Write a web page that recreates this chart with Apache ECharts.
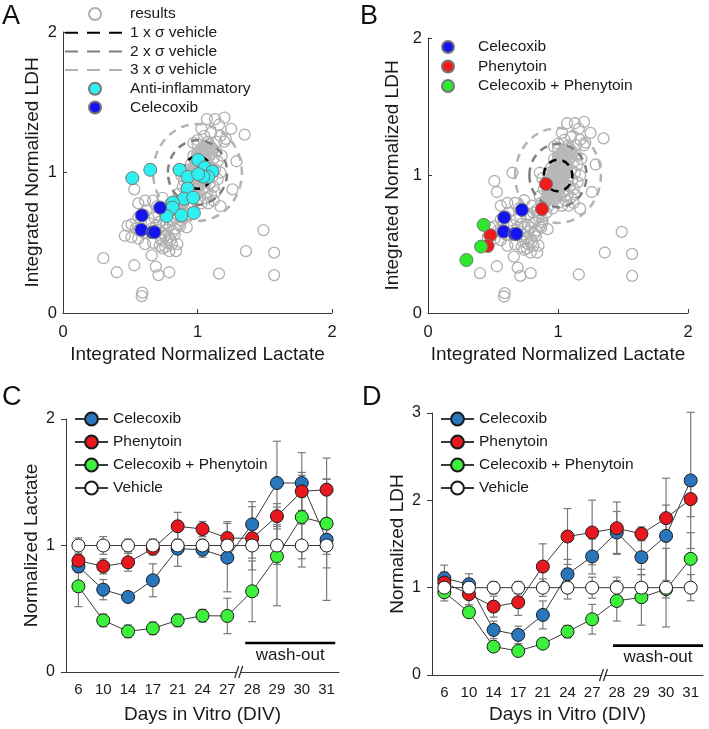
<!DOCTYPE html>
<html><head><meta charset="utf-8">
<script src="https://cdn.jsdelivr.net/npm/echarts@6/dist/echarts.min.js"></script>
<style>
html,body{margin:0;padding:0;background:#fff;width:709px;height:729px;overflow:hidden;position:relative}
.p{position:absolute}
</style></head>
<body>
<div id="pa" class="p" style="left:0;top:0;width:355px;height:365px"></div>
<div id="pb" class="p" style="left:355px;top:0;width:354px;height:365px"></div>
<div id="pc" class="p" style="left:0;top:365px;width:355px;height:364px"></div>
<div id="pd" class="p" style="left:355px;top:365px;width:354px;height:364px"></div>
<script>
// ---------------- DATA ----------------
// Panels A/B: integrated normalized [lactate, LDH]
const resultsPoints = [
 [0.30,0.39],[0.40,0.29],[0.53,0.34],[0.585,0.12],[0.59,0.145],[0.66,0.41],[0.69,0.33],[0.71,0.27],[0.79,0.29],
 [1.16,0.28],[1.36,0.44],[1.49,0.59],[1.57,0.43],[1.57,0.27],[1.35,1.27],[1.29,1.08],[1.26,0.88],[1.17,0.76],
 [0.51,0.96],[0.65,1.02],[0.53,0.88],
 [0.51,0.63],[0.54,0.60],[0.56,0.59],[0.60,0.57],[0.62,0.57],[0.51,0.54],[0.56,0.53],[0.61,0.49],[0.67,0.50],
 [0.72,0.48],[0.74,0.46],[0.76,0.47],[0.79,0.44],[0.84,0.44],[0.81,0.49],[0.79,0.54],[0.76,0.55],[0.73,0.57],
 [0.71,0.59],[0.77,0.59],[0.66,0.60],[0.64,0.64],[0.69,0.62],[0.86,0.63],[0.92,0.61],[0.56,0.68],[0.60,0.70],
 [0.62,0.73],[0.68,0.68],[0.71,0.70],[0.76,0.71],[0.81,0.73],[0.56,0.78],[0.61,0.80],[0.67,0.80],[0.74,0.82],
 [0.70,0.76],[0.79,0.62],[0.82,0.58],[0.88,0.66],[0.58,0.65],[0.46,0.55],[0.48,0.62],[0.73,0.52],[0.77,0.50],
 [0.82,0.66],[0.85,0.70],[0.88,0.68],[0.84,0.75],[0.88,0.76],[0.91,0.73],[0.93,0.78],[0.96,0.76],[0.90,0.82],
 [0.94,0.84],[0.97,0.82],[1.00,0.80],[1.03,0.78],[1.06,0.82],[0.92,0.88],[0.95,0.90],[0.98,0.88],[1.01,0.86],
 [1.04,0.88],[1.07,0.86],[1.10,0.84],[0.90,0.94],[0.94,0.96],[0.97,0.94],[1.00,0.92],[1.03,0.95],[1.06,0.93],
 [1.09,0.92],[1.12,0.90],[0.93,1.02],[0.96,1.00],[0.99,0.98],[1.02,1.02],[1.05,1.00],[1.08,0.98],[1.11,0.97],
 [0.95,1.06],[0.98,1.08],[1.01,1.05],[1.04,1.08],[1.07,1.06],[1.10,1.04],[1.13,1.02],[0.97,1.12],[1.00,1.14],
 [1.03,1.12],[1.06,1.15],[1.09,1.12],[1.12,1.10],[1.15,1.08],[1.00,1.20],[1.04,1.18],[1.08,1.20],[1.11,1.17],
 [1.14,1.15],[0.86,1.02],[0.88,0.98],[0.89,0.90],[0.86,0.85],[0.80,0.78],[0.78,0.72],[0.83,0.60],[0.87,0.62],
 [1.13,0.86],[1.15,0.95],[1.17,1.00],[1.18,1.12],[0.77,0.64],[0.74,0.62],[0.72,0.65],[0.76,0.55],[0.80,0.52],
 [0.83,0.56],[0.85,0.49],[0.87,0.80],[1.08,0.78],[1.12,0.80],
 [1.07,1.38],[1.13,1.38],[1.20,1.39],[1.16,1.34],[1.25,1.31],[1.03,1.31],[1.10,1.28],[1.17,1.26],[1.20,1.22],
 [1.00,1.23],[0.97,1.21],[1.08,1.22],[1.14,1.22],[1.21,1.24],[1.05,1.26]
];
const vehiclePoints = [
 [0.92,0.85],[0.95,0.90],[0.97,0.95],[1.00,1.00],[1.03,1.05],[1.05,1.10],[0.98,1.05],[1.02,0.95],[0.94,0.97],
 [1.06,1.03],[1.00,1.12],[1.08,1.15],[0.90,0.80],[0.96,0.84],[1.01,0.90],[0.99,0.99],[1.04,0.99],[0.96,1.02],
 [0.88,0.76],[1.10,1.18],[1.03,1.17],[0.93,0.92],[1.07,1.08]
];
const vehicleCenter = [1, 1];
const vehicleSigma = [0.11, 0.115];   // σ in lactate, LDH
const sigmaMultiples = [1, 2, 3];
const antiInflammatoryPoints = [
 [0.516,0.960],[0.649,1.019],[0.867,1.019],[1.005,1.090],[0.926,0.969],[1.054,1.036],[1.111,1.007],[1.079,0.969],
 [1.042,0.971],[1.005,0.988],[0.926,0.886],[0.899,0.814],[0.968,0.821],[0.817,0.786],[0.815,0.750],[0.770,0.690],
 [0.881,0.695],[0.973,0.712]
];
const celecoxibPoints = [[0.722,0.750],[0.586,0.695],[0.582,0.592],[0.665,0.575],[0.680,0.575]];
const phenytoinPoints = [[0.908,0.937],[0.877,0.756],[0.479,0.566],[0.459,0.488]];
const comboPoints = [[0.428,0.641],[0.408,0.483],[0.295,0.385]];
const scatterTickValues = [0, 1, 2];

// Panels C/D: time course
const days = ['6','10','14','17','21','24','27','28','29','30','31'];
const lacCel      = [0.835,0.651,0.593,0.725,0.975,0.967,0.904,1.167,1.494,1.494,1.046];
const lacCelErr   = [0.05,0.08,0.04,0.13,0.14,0.06,0.27,0.18,0.33,0.24,0.48];
const lacPhe      = [0.880,0.835,0.867,0.975,1.152,1.130,1.059,1.057,1.231,1.428,1.441];
const lacPheErr   = [0.05,0.06,0.07,0.05,0.11,0.06,0.13,0.25,0.10,0.15,0.25];
const lacCombo    = [0.677,0.408,0.321,0.345,0.408,0.445,0.443,0.638,0.914,1.225,1.173];
const lacComboErr = [0.16,0.05,0.05,0.05,0.05,0.05,0.14,0.24,0.39,0.33,0.35];
const lacVeh      = [1,1,1,1,1,1,1,1,1,1,1];
const lacVehErr   = [0.06,0.07,0.05,0.05,0.05,0.05,0.10,0.10,0.15,0.17,0.07];

const ldhCel      = [1.108,1.039,0.516,0.459,0.688,1.154,1.357,1.632,1.349,1.593,2.228];
const ldhCelErr   = [0.15,0.12,0.10,0.10,0.16,0.17,0.20,0.24,0.20,0.66,0.78];
const ldhPhe      = [1.058,0.925,0.783,0.833,1.242,1.586,1.632,1.681,1.616,1.796,2.014];
const ldhPheErr   = [0.12,0.12,0.12,0.15,0.26,0.32,0.37,0.30,0.08,0.15,0.20];
const ldhCombo    = [0.948,0.718,0.325,0.275,0.359,0.497,0.638,0.848,0.890,0.982,1.330];
const ldhComboErr = [0.10,0.05,0.05,0.05,0.04,0.07,0.17,0.23,0.32,0.10,0.30];
const ldhVeh      = [1,1,1,1,1,1,1,1,1,1,1];
const ldhVehErr   = [0.10,0.10,0.07,0.07,0.10,0.13,0.12,0.12,0.15,0.45,0.15];

const washoutLabel = 'wash-out';
const washoutRange = ['28', '31'];

// ---------------- STYLE / BUILD ----------------
const FONT = "'Liberation Sans', Arial, Helvetica, sans-serif";
const TXT = '#1a1a1a';
const AX = '#3a3a3a';

function axisTitles(xName, xPos, yName, yPos) {
  const st = function (t) { return { text: t, fontFamily: FONT, fontSize: 19, fill: TXT, align: 'center', verticalAlign: 'middle' }; };
  return [
    { type: 'text', x: xPos[0], y: xPos[1], style: st(xName), silent: true },
    { type: 'text', x: yPos[0], y: yPos[1], rotation: Math.PI / 2, style: st(yName), silent: true }
  ];
}

function sigmaSeries(k, color) {
  return {
    type: 'custom', name: 'sigma' + k, data: [vehicleCenter], clip: false, z: 4, silent: true,
    renderItem: function (params, api) {
      const c = api.coord([api.value(0), api.value(1)]);
      const rx = api.size([vehicleSigma[0] * k, 0])[0];
      const ry = api.size([0, vehicleSigma[1] * k])[1];
      return { type: 'ellipse', shape: { cx: c[0], cy: c[1], rx: rx, ry: ry },
        style: { fill: null, stroke: color, lineWidth: 2.5, lineDash: [8, 6] } };
    }
  };
}
const sigmaColors = ['#000000', '#7f7f7f', '#b3b3b3'];

function scatterPanel(el, letter, grid, legend, colored, withSigmaLegend) {
  const chart = echarts.init(document.getElementById(el), null, { renderer: 'canvas' });
  const series = [
    { type: 'scatter', name: 'results', data: resultsPoints, symbol: 'circle', symbolSize: 11, z: 2,
      itemStyle: { color: 'rgba(255,255,255,0)', borderColor: '#b0b0b0', borderWidth: 1.3, opacity: 1 } },
    { type: 'scatter', name: 'vehicle', data: vehiclePoints, symbol: 'circle', symbolSize: 12, z: 3,
      itemStyle: { color: '#b8b8b8', borderColor: '#b8b8b8', borderWidth: 1, opacity: 1 } }
  ];
  sigmaMultiples.forEach(function (k, i) { series.push(sigmaSeries(k, sigmaColors[i])); });
  const legendData = [];
  if (withSigmaLegend) {
    legendData.push({ name: 'results' });
    sigmaMultiples.forEach(function (k, i) {
      const nm = k + ' x σ vehicle';
      legendData.push({ name: nm, itemStyle: { opacity: 0 } });
      series.push({ type: 'line', name: nm, data: [], symbol: 'none', showSymbol: false,
        lineStyle: { color: sigmaColors[i], width: 2.5, type: [13, 9] }, itemStyle: { color: sigmaColors[i], opacity: 0 } });
    });
  }
  colored.forEach(function (c) {
    legendData.push({ name: c.name });
    series.push({ type: 'scatter', name: c.name, data: c.data, symbol: 'circle', symbolSize: 13, z: 6,
      itemStyle: { color: c.color, borderColor: '#777', borderWidth: 1, opacity: 1 } });
  });
  const gx = grid.left, gy = grid.top;
  chart.setOption({
    animation: false,
    title: { text: letter, left: grid.letterLeft, top: -2, padding: 5, textStyle: { fontFamily: FONT, fontSize: 27, fontWeight: 'normal', color: '#111' } },
    graphic: axisTitles('Integrated Normalized Lactate', [gx + grid.width / 2, 355],
                        'Integrated Normalized LDH', [grid.yTitleX, gy + grid.height / 2]),
    legend: Object.assign({ data: legendData, orient: 'vertical', itemHeight: 12, selectedMode: false, padding: 0,
      textStyle: { fontFamily: FONT, fontSize: 15.5, color: TXT, lineHeight: 18 } }, legend),
    grid: { left: grid.left, top: grid.top, width: grid.width, height: grid.height },
    xAxis: { type: 'value', min: 0, max: 2, interval: 1,
      axisLine: { lineStyle: { color: AX, width: 1 } }, axisTick: { inside: true, length: 4, lineStyle: { color: AX } },
      axisLabel: { margin: 11, fontFamily: FONT, fontSize: 16.5, color: TXT, formatter: function (v) { return scatterTickValues.indexOf(v) >= 0 ? String(v) : ''; } },
      splitLine: { show: false } },
    yAxis: { type: 'value', min: 0, max: 2, interval: 1,
      axisLine: { show: true, lineStyle: { color: AX, width: 1 } }, axisTick: { show: true, inside: true, length: 4, lineStyle: { color: AX } },
      axisLabel: { margin: 6, fontFamily: FONT, fontSize: 16.5, color: TXT },
      splitLine: { show: false } },
    series: series
  });
}

scatterPanel('pa', 'A', { left: 63, top: 32, width: 269, height: 281, letterLeft: -3, yTitleX: 33 },
  { left: 64, top: 5, itemWidth: 60, itemGap: 0.7 }, [
    { name: 'Anti-inflammatory', data: antiInflammatoryPoints, color: '#2ff0f0' },
    { name: 'Celecoxib', data: celecoxibPoints, color: '#1414f0' }
  ], true);

scatterPanel('pb', 'B', { left: 73, top: 38, width: 260, height: 275, letterLeft: 0, yTitleX: 38 },
  { left: 86, top: 38, itemWidth: 50, itemGap: 1.5 }, [
    { name: 'Celecoxib', data: celecoxibPoints, color: '#1414f0' },
    { name: 'Phenytoin', data: phenytoinPoints, color: '#ee1c1c' },
    { name: 'Celecoxib + Phenytoin', data: comboPoints, color: '#2ee82e' }
  ], false);

function errData(vals, errs) {
  return vals.map(function (v, i) { return [i, v - errs[i], v + errs[i]]; });
}
function errSeries(vals, errs) {
  return { type: 'custom', data: errData(vals, errs), encode: { x: 0, y: [1, 2] }, z: 1, silent: true, clip: false,
    renderItem: function (params, api) {
      const i = api.value(0);
      const p1 = api.coord([i, api.value(1)]), p2 = api.coord([i, api.value(2)]);
      const w = 4, st = { stroke: '#7a7a7a', lineWidth: 1.2 };
      return { type: 'group', children: [
        { type: 'line', shape: { x1: p1[0], y1: p1[1], x2: p2[0], y2: p2[1] }, style: st },
        { type: 'line', shape: { x1: p1[0] - w, y1: p1[1], x2: p1[0] + w, y2: p1[1] }, style: st },
        { type: 'line', shape: { x1: p2[0] - w, y1: p2[1], x2: p2[0] + w, y2: p2[1] }, style: st }
      ] };
    } };
}

function timePanel(el, letter, cfg, groups) {
  const chart = echarts.init(document.getElementById(el), null, { renderer: 'canvas' });
  const series = [];
  groups.forEach(function (g) { series.push(errSeries(g.vals, g.errs)); });
  groups.forEach(function (g) {
    series.push({ type: 'line', name: g.name, data: g.vals, symbol: 'circle', symbolSize: 13, z: 3,
      lineStyle: { color: '#3a3a3a', width: 1 },
      itemStyle: { color: g.color, borderColor: '#1a1a1a', borderWidth: 1 } });
  });
  // axis break mark between 27 and 28
  series.push({ type: 'custom', data: [[days.indexOf('27'), 0]], z: 5, silent: true, clip: false,
    renderItem: function (params, api) {
      const p = api.coord([api.value(0), api.value(1)]);
      const x = p[0] + api.size([1, 0])[0] / 2, y = p[1];
      const st = { stroke: '#222', lineWidth: 1.2 };
      return { type: 'group', children: [
        { type: 'polygon', shape: { points: [[x - 5, y + 6], [x - 1, y - 6], [x + 3, y - 6], [x - 1, y + 6]] }, style: { fill: '#fff' } },
        { type: 'line', shape: { x1: x - 5, y1: y + 6, x2: x - 1, y2: y - 6 }, style: st },
        { type: 'line', shape: { x1: x - 1, y1: y + 6, x2: x + 3, y2: y - 6 }, style: st }
      ] };
    } });
  // wash-out bar
  series.push({ type: 'custom', data: [[days.indexOf(washoutRange[0]), cfg.washY, days.indexOf(washoutRange[1])]],
    encode: { x: 0, y: 1 }, z: 5, silent: true, clip: false,
    renderItem: function (params, api) {
      const band = api.size([1, 0])[0];
      const a = api.coord([api.value(0), api.value(1)]);
      const b = api.coord([api.value(2), api.value(1)]);
      const x1 = a[0] + cfg.washStart * band, x2 = b[0] + cfg.washEnd * band;
      return { type: 'group', children: [
        { type: 'line', shape: { x1: x1, y1: a[1], x2: x2, y2: a[1] }, style: { stroke: '#000', lineWidth: 2.6 } },
        { type: 'text', x: (x1 + x2) / 2, y: a[1] + 12, style: { text: washoutLabel, fontFamily: FONT, fontSize: 17, fill: TXT, align: 'center', verticalAlign: 'middle' } }
      ] };
    } });
  chart.setOption({
    animation: false,
    title: { text: letter, left: cfg.letterLeft, top: 14, padding: 5, textStyle: { fontFamily: FONT, fontSize: 27, fontWeight: 'normal', color: '#111' } },
    graphic: axisTitles('Days in Vitro (DIV)', [cfg.left + cfg.width / 2, 350], cfg.yName, [cfg.yTitleX, cfg.top + cfg.height / 2]),
    legend: { data: groups.map(function (g) { return g.name; }), orient: 'vertical', left: cfg.legendLeft, top: 45, padding: 0,
      itemWidth: 33, itemHeight: 16, itemGap: 5, selectedMode: false,
      textStyle: { fontFamily: FONT, fontSize: 15.5, color: TXT, lineHeight: 18 } },
    grid: { left: cfg.left, top: cfg.top, width: cfg.width, height: cfg.height },
    xAxis: { type: 'category', data: days, boundaryGap: true,
      axisLine: { lineStyle: { color: AX } }, axisTick: { length: 5, interval: 0, lineStyle: { color: AX } },
      axisLabel: { margin: 10, interval: 0, fontFamily: FONT, fontSize: 15, color: TXT }, splitLine: { show: false } },
    yAxis: { type: 'value', min: 0, max: cfg.yMax, interval: 1,
      axisLine: { show: true, lineStyle: { color: AX } }, axisTick: { show: true, length: 5, lineStyle: { color: AX } },
      axisLabel: { margin: 11, fontFamily: FONT, fontSize: 16, color: TXT }, splitLine: { show: false } },
    series: series
  });
}

timePanel('pc', 'C', { left: 66, top: 54, width: 273, height: 253, yMax: 2, yName: 'Normalized Lactate', yTitleX: 32,
  letterLeft: -3, legendLeft: 74, washY: 0.229, washStart: -0.28, washEnd: 0.35 }, [
  { name: 'Celecoxib', vals: lacCel, errs: lacCelErr, color: '#2a76bd' },
  { name: 'Phenytoin', vals: lacPhe, errs: lacPheErr, color: '#e8191e' },
  { name: 'Celecoxib + Phenytoin', vals: lacCombo, errs: lacComboErr, color: '#3cf03c' },
  { name: 'Vehicle', vals: lacVeh, errs: lacVehErr, color: '#ffffff' }
]);

timePanel('pd', 'D', { left: 77, top: 48, width: 271, height: 262, yMax: 3, yName: 'Normalized LDH', yTitleX: 43,
  letterLeft: 2, legendLeft: 85, washY: 0.336, washStart: -0.15, washEnd: 0.5 }, [
  { name: 'Celecoxib', vals: ldhCel, errs: ldhCelErr, color: '#2a76bd' },
  { name: 'Phenytoin', vals: ldhPhe, errs: ldhPheErr, color: '#e8191e' },
  { name: 'Celecoxib + Phenytoin', vals: ldhCombo, errs: ldhComboErr, color: '#3cf03c' },
  { name: 'Vehicle', vals: ldhVeh, errs: ldhVehErr, color: '#ffffff' }
]);
</script>
</body></html>
